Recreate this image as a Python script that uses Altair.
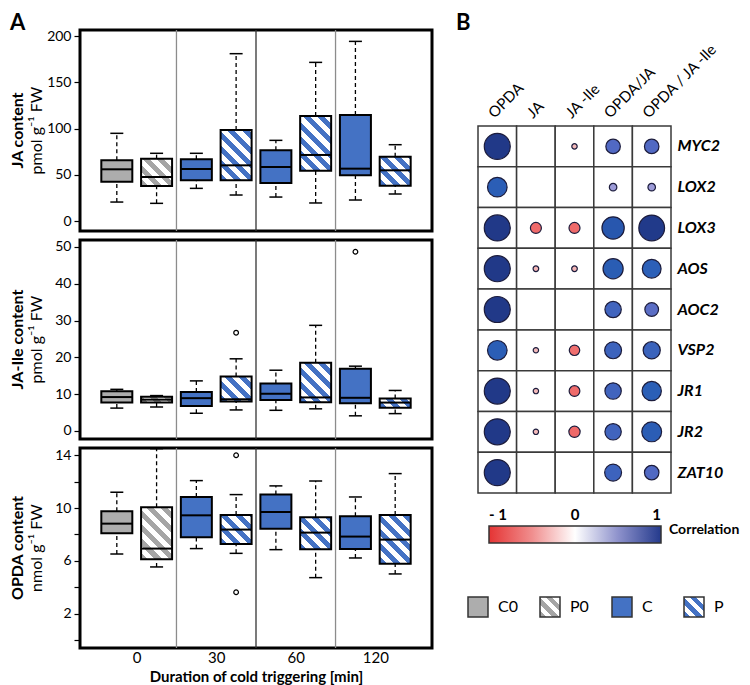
import math
import altair as alt
import pandas as pd

FONT = "Lato"
BLUE = "#4472c4"
GRAY = "#adadad"
HATCH_GRAY = "#a5a5a5"

# ---------------- Panel A data ----------------
box_pos = [1, 2, 3, 4, 5, 6, 7, 8]
box_treatment = ["C0", "P0", "C", "P", "C", "P", "C", "P"]
duration_pos = [1.5, 3.5, 5.5, 7.5]
duration_labels = ["0", "30", "60", "120"]
divider_pos = [2.5, 4.5, 6.5]

ja_low = [20.5, 19.1, 35.3, 28.1, 25.9, 19.5, 22.7, 29.2]
ja_q1 = [42.5, 37.8, 44.0, 44.0, 41.1, 54.4, 49.4, 38.2]
ja_med = [55.9, 47.6, 56.2, 60.2, 58.4, 71.4, 56.6, 54.8]
ja_q3 = [65.6, 67.4, 66.7, 98.4, 76.4, 113.5, 114.6, 69.5]
ja_high = [94.8, 73.2, 73.2, 180.9, 87.2, 171.5, 194.2, 82.5]
ja_out_pos = []
ja_out_val = []

jaile_low = [6.2, 6.5, 4.8, 5.7, 5.6, 6.0, 4.1, 4.7]
jaile_q1 = [7.7, 7.7, 6.8, 8.0, 8.4, 7.8, 7.5, 6.3]
jaile_med = [9.2, 8.5, 8.9, 8.6, 10.1, 9.1, 9.0, 7.7]
jaile_q3 = [10.8, 9.3, 10.6, 14.8, 12.9, 18.5, 16.9, 8.8]
jaile_high = [11.3, 9.6, 13.6, 19.6, 16.5, 28.7, 17.6, 11.0]
jaile_out_pos = [4, 7]
jaile_out_val = [26.7, 48.7]

opda_low = [6.52, 5.54, 6.93, 6.57, 6.85, 4.73, 6.22, 5.01]
opda_q1 = [8.09, 6.12, 7.78, 7.28, 8.44, 6.88, 6.90, 5.79]
opda_med = [8.82, 6.93, 9.45, 8.37, 9.70, 8.14, 7.84, 7.61]
opda_q3 = [9.76, 10.06, 10.84, 9.48, 11.02, 9.30, 9.38, 9.48]
opda_high = [11.2, 14.5, 12.08, 11.02, 11.68, 12.05, 10.84, 12.61]
opda_out_pos = [4, 4]
opda_out_val = [14.0, 3.62]

# ---------------- Panel B data ----------------
genes = ["MYC2", "LOX2", "LOX3", "AOS", "AOC2", "VSP2", "JR1", "JR2", "ZAT10"]
metabolites = ["OPDA", "JA", "JA -Ile", "OPDA/JA", "OPDA / JA -Ile"]
corr_MYC2 = [0.97, None, -0.20, 0.54, 0.54]
corr_LOX2 = [0.73, None, None, 0.28, 0.28]
corr_LOX3 = [0.97, -0.41, -0.41, 0.83, 0.96]
corr_AOS = [0.97, -0.21, -0.21, 0.75, 0.70]
corr_AOC2 = [0.97, None, None, 0.61, 0.51]
corr_VSP2 = [0.73, -0.20, -0.39, 0.63, 0.64]
corr_JR1 = [0.97, -0.20, -0.40, 0.61, 0.72]
corr_JR2 = [0.97, -0.20, -0.42, 0.61, 0.74]
corr_ZAT10 = [0.97, None, None, 0.63, 0.54]
corr_rows = [corr_MYC2, corr_LOX2, corr_LOX3, corr_AOS, corr_AOC2,
             corr_VSP2, corr_JR1, corr_JR2, corr_ZAT10]

cbar_ticks = [-1, 0, 1]
cbar_labels = ["- 1", "0", "1"]
legend_labels = ["C0", "P0", "C", "P"]

corr_domain = [-1, -0.4, -0.2, 0, 0.28, 0.55, 0.7, 0.85, 0.95, 1]
corr_range = ["#e02a2a", "#ef6b6b", "#f3b9b9", "#ffffff", "#9c9bd8",
              "#4d67c2", "#2c60b8", "#2756ad", "#223b8b", "#1f3584"]


def hatch(color, w, h, period=10.0, frac=0.5):
    """Diagonal '\\' stripes as a linear gradient in bounding-box units."""
    r = h / w
    k = (1 + r) / (1 + r * r)
    length = (w + h) / math.sqrt(2)
    seg = period / length
    stops = []
    t = 0.0
    while t < 1.0 - 1e-9:
        a = min(t + seg * frac, 1.0)
        b = min(t + seg, 1.0)
        stops += [{"offset": round(t, 4), "color": color},
                  {"offset": round(a, 4), "color": color}]
        if a < 1.0:
            stops += [{"offset": round(a, 4), "color": "white"},
                      {"offset": round(b, 4), "color": "white"}]
        t += seg
    return {"gradient": "linear", "x1": 0, "y1": 1, "x2": k, "y2": 1 - k * r,
            "stops": stops}


def panel(low, q1, med, q3, high, out_pos, out_val, ydomain, yticks, height,
          bold_title, unit_title, show_x=False, sparse_labels=False, letter=None):
    df = pd.DataFrame({"pos": box_pos, "trt": box_treatment, "low": low,
                       "q1": q1, "med": med, "q3": q3, "high": high})
    pxu = height / (ydomain[1] - ydomain[0])
    box_w = 31

    if show_x:
        lab_expr = "[" + ",".join("'%s'" % s for s in duration_labels) + "][indexof([" + \
            ",".join(str(v) for v in duration_pos) + "], datum.value)]"
        xaxis = alt.Axis(values=duration_pos, labelExpr=lab_expr, ticks=False,
                         domain=False, grid=False, labelFontSize=15,
                         labelColor="black", labelPadding=2,
                         title="Duration of cold triggering [min]",
                         titleFontSize=15, titleFontWeight="bold",
                         titleColor="black", titlePadding=4)
    else:
        xaxis = None
    xscale = alt.Scale(domain=[0.2, 8.8], nice=False, zero=False)

    yargs = dict(values=yticks, title=None, grid=False, domain=False,
                 tickColor="black", tickSize=6, tickWidth=1.2, labelFontSize=14,
                 labelColor="black", labelPadding=3)
    if sparse_labels:
        yargs["labelExpr"] = "datum.value % 4 == 2 ? datum.label : ''"
    yaxis = alt.Axis(**yargs)
    yscale = alt.Scale(domain=ydomain, nice=False, zero=False)

    def X():
        return alt.X("pos:Q", scale=xscale, axis=xaxis)

    def Y(f):
        return alt.Y(f + ":Q", scale=yscale, axis=yaxis)

    base = alt.Chart(df)
    layers = []
    layers.append(
        alt.Chart(pd.DataFrame({"pos": divider_pos})).mark_rule(strokeWidth=1.3).encode(
            x=X(),
            color=alt.condition("datum.pos == 4.5", alt.value("#333333"), alt.value("#8c8c8c")))
    )
    layers.append(base.mark_rule(strokeDash=[4, 3], strokeWidth=1.3, color="black").encode(
        x=X(), y=Y("low"), y2=alt.Y2("q1")))
    layers.append(base.mark_rule(strokeDash=[4, 3], strokeWidth=1.3, color="black").encode(
        x=X(), y=Y("q3"), y2=alt.Y2("high")))
    for f in ["low", "high"]:
        layers.append(base.mark_tick(orient="horizontal", size=13, thickness=1.5,
                                     color="black", opacity=1).encode(x=X(), y=Y(f)))
    layers.append(
        base.transform_filter("datum.trt == 'C0' || datum.trt == 'C'")
        .mark_bar(size=box_w, orient="vertical", stroke="black", strokeWidth=2, opacity=1)
        .encode(x=X(), y=Y("q1"), y2=alt.Y2("q3"),
                fill=alt.Fill("trt:N", scale=alt.Scale(domain=["C0", "C"], range=[GRAY, BLUE]),
                              legend=None))
    )
    for i, t in enumerate(box_treatment):
        if t in ("P0", "P"):
            h = (q3[i] - q1[i]) * pxu
            grad = hatch(HATCH_GRAY if t == "P0" else BLUE, box_w, h)
            layers.append(
                base.transform_filter("datum.pos == %d" % box_pos[i])
                .mark_bar(size=box_w, orient="vertical", fill=grad, stroke="black",
                          strokeWidth=2, opacity=1)
                .encode(x=X(), y=Y("q1"), y2=alt.Y2("q3"))
            )
    layers.append(base.mark_tick(orient="horizontal", size=box_w, thickness=2,
                                 color="black", opacity=1).encode(x=X(), y=Y("med")))
    if out_pos:
        layers.append(
            alt.Chart(pd.DataFrame({"pos": out_pos, "val": out_val}))
            .mark_point(shape="circle", size=22, filled=False, color="black",
                        strokeWidth=1.2, opacity=1)
            .encode(x=X(), y=Y("val"))
        )
    layers.append(
        alt.Chart(pd.DataFrame({"t": [bold_title]}))
        .mark_text(angle=270, fontSize=16, fontWeight="bold", color="black",
                   align="center", baseline="middle")
        .encode(text="t:N", x=alt.value(-62), y=alt.value(height / 2))
    )
    layers.append(
        alt.Chart(pd.DataFrame({"t": [unit_title]}))
        .mark_text(angle=270, fontSize=16, color="black", align="center",
                   baseline="middle")
        .encode(text="t:N", x=alt.value(-43), y=alt.value(height / 2))
    )
    if letter:
        layers.append(
            alt.Chart(pd.DataFrame({"t": [letter]}))
            .mark_text(fontSize=22, fontWeight="bold", color="black", align="left",
                       baseline="top")
            .encode(text="t:N", x=alt.value(-70), y=alt.value(-17))
        )
    return alt.layer(*layers).properties(
        width=352, height=height,
        view=alt.ViewBackground(stroke="black", strokeWidth=3))


p1 = panel(ja_low, ja_q1, ja_med, ja_q3, ja_high, ja_out_pos, ja_out_val,
           [-10.8, 206.5], [0, 50, 100, 150, 200], 201,
           "JA content", "pmol g\u207b\u00b9 FW", letter="A")
p2 = panel(jaile_low, jaile_q1, jaile_med, jaile_q3, jaile_high, jaile_out_pos,
           jaile_out_val, [-2.2, 51.9], [0, 10, 20, 30, 40, 50], 199,
           "JA-Ile content", "pmol g\u207b\u00b9 FW")
p3 = panel(opda_low, opda_q1, opda_med, opda_q3, opda_high, opda_out_pos, opda_out_val,
           [-0.6, 14.55], [0, 2, 4, 6, 8, 10, 12, 14], 200,
           "OPDA content", "nmol g\u207b\u00b9 FW", show_x=True, sparse_labels=True)

left = alt.vconcat(p1, p2, p3, spacing=9, bounds="flush")

# ---------------- Panel B ----------------
grid_rows = []
circ_rows = []
for g, row in zip(genes, corr_rows):
    for m, r in zip(metabolites, row):
        grid_rows.append({"gene": g, "met": m})
        if r is not None:
            circ_rows.append({"gene": g, "met": m, "r": r})
grid_df = pd.DataFrame(grid_rows)
circ_df = pd.DataFrame(circ_rows)

hx = alt.X("met:N", scale=alt.Scale(domain=metabolites, paddingInner=0, paddingOuter=0),
           axis=None)
hy = alt.Y("gene:N", scale=alt.Scale(domain=genes, range=[96, 463], paddingInner=0,
                                     paddingOuter=0),
           axis=alt.Axis(orient="right", labelPadding=6, ticks=False, domain=False,
                         grid=False, labelFontSize=16, labelFontWeight="bold",
                         labelFontStyle="italic", labelColor="black", title=None))

grid = alt.Chart(grid_df).mark_rect(fill="white", stroke="#3a3a3a", strokeWidth=1.5).encode(
    x=hx, y=hy)
circles = alt.Chart(circ_df).transform_calculate(ar="abs(datum.r)").mark_circle(
    stroke="#1c1c3c", strokeWidth=1.2, opacity=1).encode(
    x=hx, y=hy,
    size=alt.Size("ar:Q", scale=alt.Scale(type="pow", exponent=2, domain=[0, 1],
                                          range=[0, 720]), legend=None),
    color=alt.Color("r:Q", scale=alt.Scale(domain=corr_domain, range=corr_range),
                    legend=None))
col_labels = alt.Chart(pd.DataFrame({"met": metabolites})).mark_text(
    angle=315, align="left", baseline="middle", fontSize=15, color="black", dx=-9
).encode(x=hx, y=alt.value(79), text="met:N")
heat = alt.layer(grid, circles, col_labels)

cbar_grad = {"gradient": "linear", "x1": 0, "y1": 0, "x2": 1, "y2": 0,
             "stops": [{"offset": 0, "color": "#e53434"},
                       {"offset": 0.25, "color": "#f08e8e"},
                       {"offset": 0.5, "color": "#ffffff"},
                       {"offset": 0.75, "color": "#8e92cc"},
                       {"offset": 1, "color": "#243a8c"}]}
cbx = alt.Scale(domain=[cbar_ticks[0], cbar_ticks[-1]], range=[11, 183], nice=False,
                zero=False)
cb_layers = [
    alt.Chart(pd.DataFrame({"lo": [cbar_ticks[0]], "hi": [cbar_ticks[-1]]}))
    .mark_rect(fill=cbar_grad, stroke="#333333", strokeWidth=1.5)
    .encode(x=alt.X("lo:Q", scale=cbx, axis=None), x2=alt.X2("hi"),
            y=alt.value(496), y2=alt.value(513))
]
cb_df = pd.DataFrame({"v": cbar_ticks, "lab": cbar_labels})
for i, al in enumerate(["left", "center", "right"]):
    cb_layers.append(
        alt.Chart(cb_df).transform_filter("datum.v == %d" % cbar_ticks[i])
        .mark_text(fontSize=15, fontWeight="bold", color="black", align=al,
                   baseline="bottom")
        .encode(x=alt.X("v:Q", scale=cbx, axis=None), y=alt.value(493), text="lab:N")
    )
cbar = alt.layer(*cb_layers)

corr_title = alt.Chart(pd.DataFrame({"t": ["Correlation"]})).mark_text(
    fontSize=14, fontWeight="bold", color="black", align="left", baseline="middle"
).encode(text="t:N", x=alt.value(191), y=alt.value(500))

lg_df = pd.DataFrame({"lab": legend_labels})
lgx = alt.X("lab:N", scale=alt.Scale(type="point", domain=legend_labels, range=[0, 216],
                                     padding=0), axis=None)
lg_fills = [GRAY, hatch(HATCH_GRAY, 20, 20, period=9), BLUE, hatch(BLUE, 20, 20, period=9)]
lg_layers = []
for lab, fl in zip(legend_labels, lg_fills):
    lg_layers.append(
        alt.Chart(lg_df).transform_filter("datum.lab == '%s'" % lab)
        .mark_square(size=400, fill=fl, stroke="#333333", strokeWidth=1.5, opacity=1)
        .encode(x=lgx, y=alt.value(577))
    )
lg_layers.append(
    alt.Chart(lg_df).mark_text(fontSize=16, color="black", align="left",
                               baseline="middle", dx=20)
    .encode(x=lgx, y=alt.value(577), text="lab:N")
)
legend = alt.layer(*lg_layers)

b_text = alt.Chart(pd.DataFrame({"t": ["B"]})).mark_text(
    fontSize=22, fontWeight="bold", color="black", align="left", baseline="top"
).encode(text="t:N", x=alt.value(-22), y=alt.value(-17))

right = alt.layer(heat, cbar, corr_title, legend, b_text).resolve_scale(
    x="independent").properties(width=193, height=618,
                                view=alt.ViewBackground(strokeWidth=0))

chart = alt.hconcat(left, right, spacing=22).properties(
    padding={"left": 0, "top": 2, "right": 0, "bottom": 0}).configure(
    font=FONT).configure_view(strokeWidth=0)

chart.save("out.html", embed_options={"renderer": "svg", "actions": False})
